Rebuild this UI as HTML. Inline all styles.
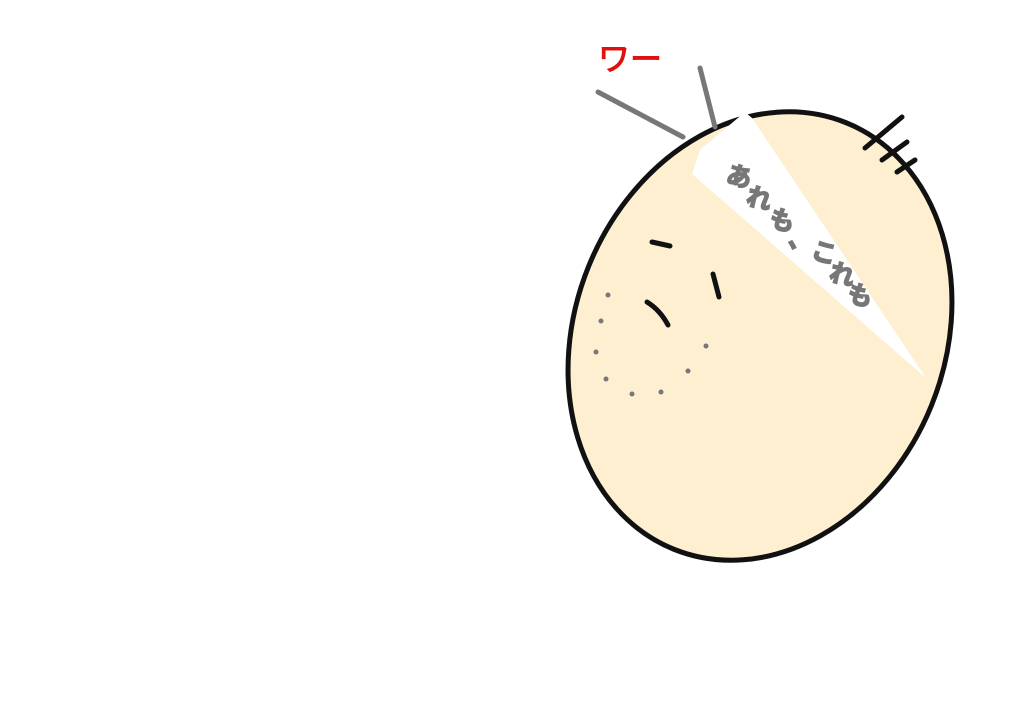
<!DOCTYPE html>
<html><head><meta charset="utf-8"><style>
html,body{margin:0;padding:0;background:#fff;width:1024px;height:712px;overflow:hidden}
svg{display:block}
</style></head><body>
<svg width="1024" height="712" viewBox="0 0 1024 712" xmlns="http://www.w3.org/2000/svg">
<ellipse cx="760" cy="336" rx="185" ry="230" transform="rotate(22 760 336)" fill="#fdefcf" stroke="#111" stroke-width="5"/>
<polygon points="692,174 700,150 745,112 752,118 926,378" fill="#fff"/>
<g stroke="#111" stroke-width="5" stroke-linecap="round" fill="none">
<line x1="865" y1="148" x2="902" y2="117"/>
<line x1="882" y1="160" x2="907" y2="142"/>
<line x1="897" y1="172" x2="915" y2="160"/>
<line x1="652" y1="242" x2="670" y2="246"/>
<line x1="713" y1="274" x2="719" y2="297"/>
<path d="M647 302 Q660 310 668 325"/>
</g>
<g stroke="#777" stroke-width="5" stroke-linecap="round" fill="none">
<line x1="598" y1="92" x2="683" y2="137"/>
<line x1="700" y1="68" x2="715" y2="127"/>
</g>
<g fill="#777">
<circle cx="608" cy="295" r="2.5"/><circle cx="601" cy="321" r="2.5"/>
<circle cx="596" cy="352" r="2.5"/><circle cx="606" cy="379" r="2.5"/>
<circle cx="632" cy="394" r="2.5"/><circle cx="661" cy="392" r="2.5"/>
<circle cx="688" cy="371" r="2.5"/><circle cx="706" cy="346" r="2.5"/>
</g>
<g font-family="'Liberation Sans','Noto Sans CJK JP',sans-serif" font-size="25" font-weight="bold" fill="#777" stroke="#777" stroke-width="1.5" text-anchor="middle">
<text transform="translate(737,185) rotate(15)">あ</text>
<text transform="translate(757,207) rotate(15)">れ</text>
<text transform="translate(780,229) rotate(15)">も</text>
<text transform="translate(799,249) rotate(15)">、</text>
<text transform="translate(822,261) rotate(15)">こ</text>
<text transform="translate(840,283) rotate(15)">れ</text>
<text transform="translate(858,304) rotate(15)">も</text>
</g>
<text x="598" y="70" font-family="'Liberation Sans','Noto Sans CJK JP',sans-serif" font-size="32" fill="#e01010" stroke="#e01010" stroke-width="1">ワー</text>
</svg>
</body></html>
